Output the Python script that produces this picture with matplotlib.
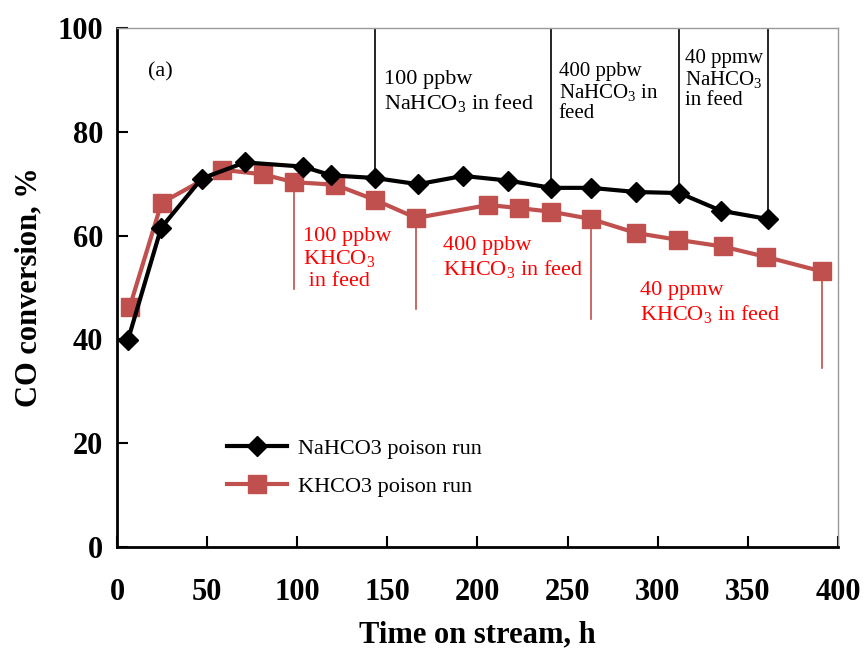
import matplotlib
matplotlib.use("Agg")
import matplotlib.pyplot as plt

plt.rcParams['font.family'] = ['Liberation Serif', 'DejaVu Serif']
plt.rcParams['mathtext.fontset'] = 'custom'
plt.rcParams['mathtext.rm'] = 'Liberation Serif'

na_t = [6, 24.5, 47, 71, 103, 119, 143, 167, 192, 217, 241, 263, 288, 312, 335, 361]
na_y = [39.8, 61.5, 71.0, 74.1, 73.3, 71.6, 71.1, 69.9, 71.5, 70.6, 69.2, 69.2, 68.4, 68.2, 64.8, 63.2]

k_t = [7, 24.7, 58, 81, 98, 121, 143, 166, 206, 223, 241, 263, 288, 311, 336, 360, 391]
k_y = [46.2, 66.3, 72.7, 71.8, 70.3, 69.8, 66.9, 63.4, 65.9, 65.3, 64.6, 63.2, 60.5, 59.2, 57.9, 55.9, 53.1]

na_marks = [143, 241, 312, 361]
na_mark_y = [71.1, 69.2, 68.2, 63.2]
k_marks = [98, 166, 263, 391]
k_mark_y = [70.3, 63.4, 63.2, 53.1]
k_mark_end = [49.8, 45.8, 44.0, 34.4]

xticks = [0, 50, 100, 150, 200, 250, 300, 350, 400]
yticks = [0, 20, 40, 60, 80, 100]

red = '#C0504D'
txt_red = '#FF0000'

fig = plt.figure(figsize=(8.64, 6.57), dpi=100)
ax = fig.add_axes([117/864, 1-547/657, (838-117)/864, (547-28)/657])

for x, y in zip(na_marks, na_mark_y):
    ax.plot([x, x], [100, y], color='black', lw=1.2, zorder=1)
for x, y0, y1 in zip(k_marks, k_mark_y, k_mark_end):
    ax.plot([x, x], [y0, y1], color=red, lw=1.2, zorder=1)

ax.plot(na_t, na_y, color='black', lw=3, marker='D', ms=10, label='NaHCO3 poison run', zorder=3)
ax.plot(k_t, k_y, color=red, lw=3, marker='s', ms=13, label='KHCO3 poison run', zorder=2)

ax.set_xlim(0, 400)
ax.set_ylim(0, 100)
ax.set_xticks(xticks)
ax.set_yticks(yticks)
ax.tick_params(direction='in', length=8, width=1.5, labelsize=22, pad=10)
ax.tick_params(axis='x', pad=22)
for lab in ax.get_xticklabels() + ax.get_yticklabels():
    lab.set_fontweight('bold')
for s in ['left', 'bottom']:
    ax.spines[s].set_linewidth(2)
for s in ['top', 'right']:
    ax.spines[s].set_linewidth(1)
    ax.spines[s].set_color('#999999')

ax.set_xlabel('Time on stream, h', fontsize=22, fontweight='bold', labelpad=10)
ax.set_ylabel('CO conversion, %', fontsize=22, fontweight='bold', labelpad=10)

ax.text(17, 91.5, '(a)', fontsize=16, va='center')
ax.text(148, 87.5, '100 ppbw\nNaHCO$_3$ in feed', fontsize=16, va='center', linespacing=1.2)
ax.text(245, 87.5, '400 ppbw\nNaHCO$_3$ in\nfeed', fontsize=15, va='center', linespacing=1.05)
ax.text(315, 90, '40 ppmw\nNaHCO$_3$\nin feed', fontsize=15, va='center', linespacing=1.05)

ax.text(103, 55.5, '100 ppbw\nKHCO$_3$\n in feed', fontsize=16, va='center', color=txt_red, linespacing=1.15)
ax.text(181, 55.5, '400 ppbw\nKHCO$_3$ in feed', fontsize=16, va='center', color=txt_red, linespacing=1.2)
ax.text(290, 47.0, '40 ppmw\nKHCO$_3$ in feed', fontsize=16, va='center', color=txt_red, linespacing=1.2)

leg = ax.legend(loc='upper left', bbox_to_anchor=(0.125, 0.248), frameon=False,
                fontsize=16, handlelength=2.7, handletextpad=0.5, labelspacing=0.8)

fig.savefig('out.png', dpi=100)
